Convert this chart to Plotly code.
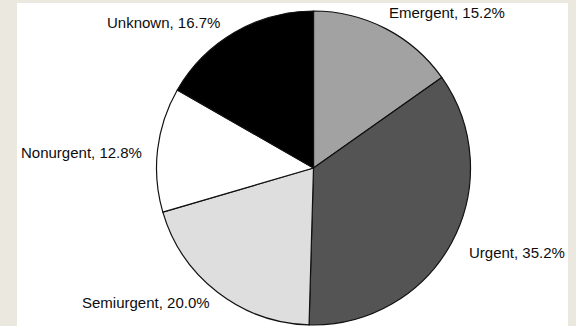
import plotly.graph_objects as go

categories = ["Emergent", "Urgent", "Semiurgent", "Nonurgent", "Unknown"]
percent = [15.2, 35.2, 20.0, 12.8, 16.7]
colors = ["#a2a2a2", "#545454", "#dedede", "#ffffff", "#000000"]

W, H = 576, 326

def px(x):
    return x / W

def py(y):
    return 1 - y / H

# label placement (pixel centres in the picture)
label_pos = {
    "Emergent": (447, 13),
    "Urgent": (517, 252),
    "Semiurgent": (146, 302),
    "Nonurgent": (81, 153),
    "Unknown": (163, 22),
}

cx, cy, r = 313.5, 168, 157

fig = go.Figure(go.Pie(
    labels=categories,
    values=percent,
    sort=False,
    direction="clockwise",
    rotation=0,
    marker=dict(colors=colors, line=dict(color="#111111", width=1.2)),
    textinfo="none",
    hoverinfo="label+percent",
    showlegend=False,
    domain=dict(x=[px(cx - r), px(cx + r)], y=[py(cy + r), py(cy - r)]),
))

for cat, val in zip(categories, percent):
    x, y = label_pos[cat]
    fig.add_annotation(
        x=px(x), y=py(y), xref="paper", yref="paper",
        text=f"{cat}, {val:.1f}%", showarrow=False,
        xanchor="center", yanchor="middle",
        font=dict(family="Liberation Sans, Arial, sans-serif", size=15, color="#0d0d0d"),
    )

fig.add_shape(
    type="rect", xref="paper", yref="paper",
    x0=px(17), x1=px(568), y0=py(326), y1=py(3),
    fillcolor="#ffffff", line=dict(width=0), layer="below",
)

fig.update_layout(
    width=W, height=H,
    margin=dict(l=0, r=0, t=0, b=0),
    paper_bgcolor="#ebe9df",
    plot_bgcolor="#ebe9df",
)

fig.write_html("out.html")
